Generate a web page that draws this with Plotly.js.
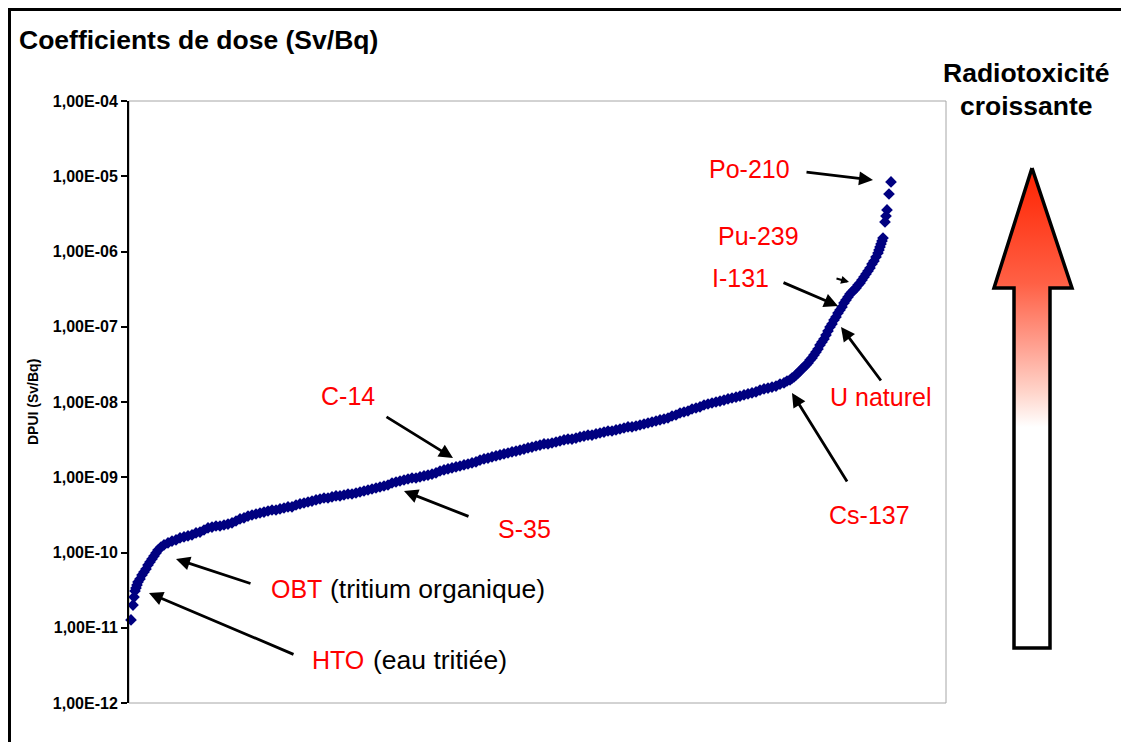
<!DOCTYPE html>
<html>
<head>
<meta charset="utf-8">
<script src="https://cdn.plot.ly/plotly-3.0.1.min.js"></script>
<style>
html,body{margin:0;padding:0;background:#ffffff;}
#chart{width:1121px;height:742px;}
</style>
</head>
<body>
<div id="chart"></div>
<script>
// ---- Data: nuclides sorted by dose coefficient (rank -> Sv/Bq) ----
const rank = [1,3,4,5,6,7,8,10,12,14,16,18,20,22,24,26,28,31,34,38,42,46,50,54,58,62,66,70,74,78,82,86,90,94,98,102,106,110,114,118,122,126,130,134,138,142,146,150,154,158,162,166,170,174,178,182,186,190,194,198,202,206,210,214,218,222,226,230,234,238,242,246,250,254,258,262,266,270,274,278,282,286,290,294,298,302,306,310,314,318,322,326,330,334,338,342,346,350,354,358,362,366,370,374,378,382,386,390,394,398,402,406,410,414,418,422,426,430,434,438,442,446,450,454,458,462,466,470,474,478,482,486,490,494,498,502,506,510,514,518,522,526,530,534,538,542,546,550,554,558,562,566,570,574,578,582,586,590,594,598,602,606,610,614,618,622,626,630,634,638,642,646,650,654,657,660,662,664,666,668,670,672,674,676,678,680,682,684,686,688,690,692,694,696,698,700,702,704,706,708,710,712,714,716,718,720,722,724,726,728,730,732,734,736,738,740,742,744,746,748,749,750,751,752,753,755,756,757,759,761];
const dose = [1.27e-11,2.00e-11,2.56e-11,3.08e-11,3.37e-11,3.70e-11,4.06e-11,4.45e-11,5.02e-11,5.51e-11,6.04e-11,6.82e-11,7.48e-11,8.20e-11,8.97e-11,9.84e-11,1.08e-10,1.18e-10,1.26e-10,1.34e-10,1.42e-10,1.47e-10,1.56e-10,1.61e-10,1.66e-10,1.71e-10,1.82e-10,1.87e-10,1.99e-10,2.12e-10,2.18e-10,2.25e-10,2.25e-10,2.32e-10,2.39e-10,2.47e-10,2.62e-10,2.79e-10,2.88e-10,3.05e-10,3.15e-10,3.25e-10,3.35e-10,3.45e-10,3.56e-10,3.67e-10,3.67e-10,3.79e-10,3.90e-10,4.03e-10,4.03e-10,4.28e-10,4.42e-10,4.55e-10,4.69e-10,4.83e-10,4.99e-10,5.14e-10,5.30e-10,5.30e-10,5.47e-10,5.64e-10,5.64e-10,5.81e-10,5.99e-10,5.99e-10,6.18e-10,6.37e-10,6.57e-10,6.77e-10,6.98e-10,7.20e-10,7.42e-10,7.65e-10,7.89e-10,8.39e-10,8.65e-10,8.91e-10,9.19e-10,9.48e-10,9.77e-10,9.77e-10,1.01e-9,1.04e-9,1.07e-9,1.10e-9,1.14e-9,1.21e-9,1.25e-9,1.29e-9,1.33e-9,1.37e-9,1.41e-9,1.46e-9,1.50e-9,1.55e-9,1.60e-9,1.69e-9,1.75e-9,1.80e-9,1.86e-9,1.92e-9,1.98e-9,2.04e-9,2.10e-9,2.17e-9,2.23e-9,2.30e-9,2.37e-9,2.45e-9,2.52e-9,2.60e-9,2.68e-9,2.77e-9,2.77e-9,2.85e-9,2.94e-9,3.03e-9,3.13e-9,3.22e-9,3.22e-9,3.32e-9,3.43e-9,3.53e-9,3.64e-9,3.64e-9,3.76e-9,3.87e-9,3.99e-9,4.12e-9,4.12e-9,4.25e-9,4.38e-9,4.51e-9,4.66e-9,4.66e-9,4.80e-9,4.95e-9,5.10e-9,5.26e-9,5.42e-9,5.59e-9,5.77e-9,5.94e-9,6.13e-9,6.52e-9,6.72e-9,7.14e-9,7.36e-9,7.59e-9,8.07e-9,8.32e-9,8.59e-9,9.12e-9,9.40e-9,9.70e-9,1.00e-8,1.03e-8,1.06e-8,1.10e-8,1.13e-8,1.16e-8,1.20e-8,1.24e-8,1.28e-8,1.32e-8,1.36e-8,1.44e-8,1.49e-8,1.53e-8,1.58e-8,1.63e-8,1.73e-8,1.79e-8,1.90e-8,1.96e-8,2.08e-8,2.15e-8,2.29e-8,2.43e-8,2.58e-8,2.75e-8,2.92e-8,3.10e-8,3.30e-8,3.61e-8,3.85e-8,4.22e-8,4.61e-8,5.06e-8,5.71e-8,6.27e-8,6.87e-8,7.76e-8,8.79e-8,9.93e-8,1.09e-7,1.23e-7,1.35e-7,1.52e-7,1.67e-7,1.83e-7,2.07e-7,2.26e-7,2.48e-7,2.72e-7,2.90e-7,3.08e-7,3.27e-7,3.59e-7,3.81e-7,4.18e-7,4.58e-7,5.02e-7,5.51e-7,6.04e-7,6.82e-7,7.48e-7,8.45e-7,9.55e-7,1.05e-6,1.15e-6,1.26e-6,1.38e-6,1.51e-6,2.47e-6,2.96e-6,3.57e-6,5.81e-6,8.40e-6];

const tickVals = [1e-12,1e-11,1e-10,1e-9,1e-8,1e-7,1e-6,1e-5,1e-4];
const tickText = ['1,00E-12','1,00E-11','1,00E-10','1,00E-09','1,00E-08','1,00E-07','1,00E-06','1,00E-05','1,00E-04'];

// ---- Layout helpers (pixel -> paper, margins are zero) ----
const W = 1121, H = 742;
const fx = p => p / W;
const fy = p => 1 - p / H;
const FONT = 'Liberation Sans, Arial, Helvetica, sans-serif';

const scatter = {
  type: 'scatter', mode: 'markers', x: rank, y: dose,
  marker: {symbol: 'diamond', size: 9, color: '#000080', line: {width: 0}},
  hoverinfo: 'skip', showlegend: false, cliponaxis: false
};

// big "radiotoxicité croissante" arrow (decoration, pixel frame)
const bigArrowX = [1032, 1072, 1050, 1050, 1014, 1014, 994, 1032];
const bigArrowY = [168, 288, 288, 648, 648, 288, 288, 168];
const bigArrow = {
  type: 'scatter', mode: 'lines', x: bigArrowX, y: bigArrowY,
  xaxis: 'x2', yaxis: 'y2', fill: 'toself',
  line: {color: '#000000', width: 3.5, shape: 'linear'},
  fillgradient: {
    type: 'vertical', start: 648, stop: 168,
    colorscale: [[0, '#ffffff'], [0.46, '#ffffff'], [0.53, '#ffd6cc'], [0.63, '#ffa090'], [0.76, '#ff6045'], [1, '#ff2200']]
  },
  hoverinfo: 'skip', showlegend: false
};

// labels
const redLabels = [
  {t: 'Po-210', x: 749, y: 169},
  {t: 'Pu-239', x: 758, y: 236},
  {t: 'I-131', x: 740, y: 278},
  {t: 'U naturel', x: 880, y: 397},
  {t: 'Cs-137', x: 869, y: 515},
  {t: 'C-14', x: 348, y: 396},
  {t: 'S-35', x: 524, y: 529}
];
const leftLabels = [
  {t: 'OBT', x: 269, y: 589, c: '#ff0000', s: 25},
  {t: '(tritium organique)', x: 328, y: 589, c: '#000000', s: 26.5},
  {t: 'HTO', x: 310, y: 660, c: '#ff0000', s: 25},
  {t: '(eau tritiée)', x: 371, y: 660, c: '#000000', s: 26.5}
];
// arrows: head (hx,hy) <- tail (tx,ty)
const arrows = [
  {hx: 873, hy: 180, tx: 805, ty: 172},
  {hx: 838, hy: 306, tx: 782, ty: 282},
  {hx: 841, hy: 327, tx: 882, ty: 382},
  {hx: 792, hy: 393, tx: 848, ty: 483},
  {hx: 453, hy: 458, tx: 385, ty: 416},
  {hx: 404, hy: 491, tx: 470, ty: 517},
  {hx: 176, hy: 559, tx: 252, ty: 584},
  {hx: 149, hy: 593, tx: 295, ty: 655}
];

const annotations = [];
redLabels.forEach(l => annotations.push({
  text: l.t, xref: 'paper', yref: 'paper', x: fx(l.x), y: fy(l.y),
  xanchor: 'center', yanchor: 'middle', showarrow: false,
  font: {family: FONT, size: 25, color: '#ff0000'}
}));
leftLabels.forEach(l => annotations.push({
  text: l.t, xref: 'paper', yref: 'paper', x: fx(l.x), y: fy(l.y),
  xanchor: 'left', yanchor: 'middle', showarrow: false,
  font: {family: FONT, size: l.s, color: l.c}
}));
arrows.forEach(a => annotations.push({
  text: '', xref: 'paper', yref: 'paper', x: fx(a.hx), y: fy(a.hy),
  ax: a.tx - a.hx, ay: a.ty - a.hy, showarrow: true,
  arrowhead: 2, arrowsize: 1, arrowwidth: 2.8, arrowcolor: '#000000', standoff: 0
}));
// small Pu-239 arrow
annotations.push({
  text: '', xref: 'paper', yref: 'paper', x: fx(849), y: fy(282),
  ax: -14, ay: -4, showarrow: true, arrowhead: 2, arrowsize: 0.8, arrowwidth: 2,
  arrowcolor: '#000000', standoff: 0
});
// y-axis title
annotations.push({
  text: 'DPUI (Sv/Bq)', xref: 'paper', yref: 'paper', x: fx(33), y: fy(402),
  xanchor: 'center', yanchor: 'middle', textangle: -90, showarrow: false,
  font: {family: FONT, size: 14, color: '#000000', weight: 'bold'}
});
// right side heading
annotations.push({
  text: 'Radiotoxicité', xref: 'paper', yref: 'paper', x: fx(1026), y: fy(73),
  xanchor: 'center', yanchor: 'middle', showarrow: false,
  font: {family: FONT, size: 26.5, color: '#000000', weight: 'bold'}
});
annotations.push({
  text: 'croissante', xref: 'paper', yref: 'paper', x: fx(1026), y: fy(106),
  xanchor: 'center', yanchor: 'middle', showarrow: false,
  font: {family: FONT, size: 26.5, color: '#000000', weight: 'bold'}
});

const layout = {
  width: W, height: H,
  margin: {l: 0, r: 0, t: 0, b: 0, pad: 0},
  paper_bgcolor: '#ffffff', plot_bgcolor: 'rgba(0,0,0,0)',
  showlegend: false,
  title: {
    text: 'Coefficients de dose (Sv/Bq)', xref: 'container', yref: 'container',
    x: fx(19), xanchor: 'left', y: fy(40), yanchor: 'middle',
    font: {family: FONT, size: 26.5, color: '#000000', weight: 'bold'}
  },
  xaxis: {
    domain: [fx(129), fx(946)], range: [-1, 816],
    showgrid: false, zeroline: false, showticklabels: false, ticks: '', showline: false, fixedrange: true
  },
  yaxis: {
    type: 'log', domain: [fy(703), fy(101)], range: [-12, -4],
    tickmode: 'array', tickvals: tickVals, ticktext: tickText,
    ticks: 'outside', ticklen: 6, tickwidth: 2, tickcolor: '#000000',
    showline: true, linecolor: '#000000', linewidth: 2,
    showgrid: false, zeroline: false, fixedrange: true,
    tickfont: {family: FONT, size: 16, color: '#000000', weight: 'bold'}
  },
  xaxis2: {domain: [0, 1], anchor: 'y2', range: [0, W], visible: false, fixedrange: true},
  yaxis2: {domain: [0, 1], anchor: 'x2', range: [H, 0], visible: false, fixedrange: true},
  shapes: [
    {type: 'rect', xref: 'paper', yref: 'paper', x0: fx(129), x1: fx(946), y0: fy(703), y1: fy(101),
     line: {color: '#a6a6a6', width: 1}, fillcolor: 'rgba(0,0,0,0)', layer: 'below'},
    {type: 'rect', xref: 'paper', yref: 'paper', x0: fx(9.5), x1: fx(1140), y0: fy(760), y1: fy(9.5),
     line: {color: '#000000', width: 3}, fillcolor: 'rgba(0,0,0,0)', layer: 'below'}
  ],
  annotations: annotations
};

Plotly.newPlot('chart', [scatter, bigArrow], layout, {staticPlot: true, displayModeBar: false});
</script>
</body>
</html>
